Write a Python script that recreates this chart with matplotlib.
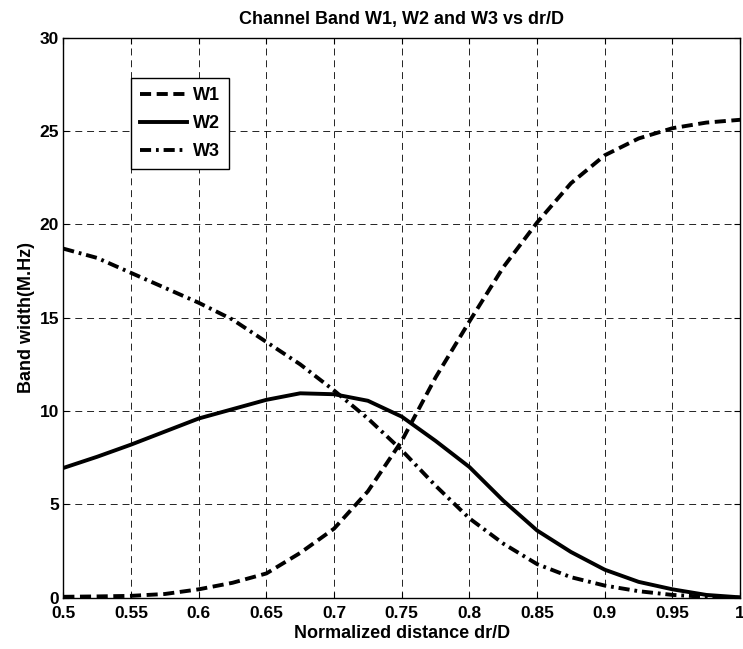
import numpy as np
from matplotlib import pyplot as plt

# normalized distance dr/D
x = [0.5, 0.525, 0.55, 0.575, 0.6, 0.625, 0.65, 0.675, 0.7, 0.725, 0.75,
     0.775, 0.8, 0.825, 0.85, 0.875, 0.9, 0.925, 0.95, 0.975, 1.0]

# band widths (MHz)
w1 = [0.05, 0.07, 0.1, 0.2, 0.45, 0.8, 1.3, 2.4, 3.7, 5.7, 8.4,
      11.8, 14.8, 17.7, 20.1, 22.2, 23.7, 24.6, 25.15, 25.45, 25.6]
w2 = [6.95, 7.55, 8.2, 8.9, 9.6, 10.1, 10.6, 10.95, 10.9, 10.55, 9.7,
      8.4, 7.0, 5.2, 3.6, 2.45, 1.5, 0.85, 0.45, 0.15, 0.02]
w3 = [18.7, 18.2, 17.4, 16.6, 15.8, 14.9, 13.7, 12.5, 11.1, 9.6, 7.9,
      6.0, 4.25, 2.9, 1.8, 1.1, 0.65, 0.35, 0.15, 0.05, 0.0]

x_ticks = [0.5, 0.55, 0.6, 0.65, 0.7, 0.75, 0.8, 0.85, 0.9, 0.95, 1.0]
x_tick_labels = ['0.5', '0.55', '0.6', '0.65', '0.7', '0.75', '0.8', '0.85', '0.9', '0.95', '1']
y_ticks = [0, 5, 10, 15, 20, 25, 30]

plt.rcParams['font.family'] = ['Liberation Sans', 'DejaVu Sans']
plt.rcParams['font.weight'] = 'bold'
plt.rcParams['lines.scale_dashes'] = False

fig = plt.figure(figsize=(7.43, 6.49), dpi=100)
ax = fig.add_axes([0.0852, 0.079, 0.911, 0.863])

lw = 2.8
ax.plot(x, w1, color='k', lw=lw, dashes=(8, 4), label='W1')
ax.plot(x, w2, color='k', lw=lw, label='W2')
ax.plot(x, w3, color='k', lw=lw, dashes=(8, 3.5, 2, 3.5), label='W3')

ax.set_xlim(0.5, 1.0)
ax.set_ylim(0, 30)
ax.set_xticks(x_ticks)
ax.set_xticklabels(x_tick_labels)
ax.set_yticks(y_ticks)
ax.tick_params(direction='in', top=True, right=True, length=4, width=0.8,
               labelsize=12.5)
ax.tick_params(axis='x', pad=6)
ax.tick_params(axis='y', pad=3)
ax.grid(True, color='k', lw=0.6, dashes=(5, 3.5))
for s in ax.spines.values():
    s.set_linewidth(1.0)

ax.set_xlabel('Normalized distance dr/D', fontsize=13, fontweight='bold', labelpad=3)
ax.set_ylabel('Band width(M.Hz)', fontsize=13, fontweight='bold', labelpad=3)
ax.set_title('Channel Band W1, W2 and W3 vs dr/D', fontsize=13, fontweight='bold', pad=10)

leg = ax.legend(loc='upper left', bbox_to_anchor=(0.0996, 0.928), fancybox=False,
                framealpha=1, edgecolor='k', handlelength=2.6, labelspacing=0.62,
                borderpad=0.5, handletextpad=0.35, borderaxespad=0, fontsize=13)
leg.get_frame().set_linewidth(1.0)

fig.savefig('out.png', dpi=100)
